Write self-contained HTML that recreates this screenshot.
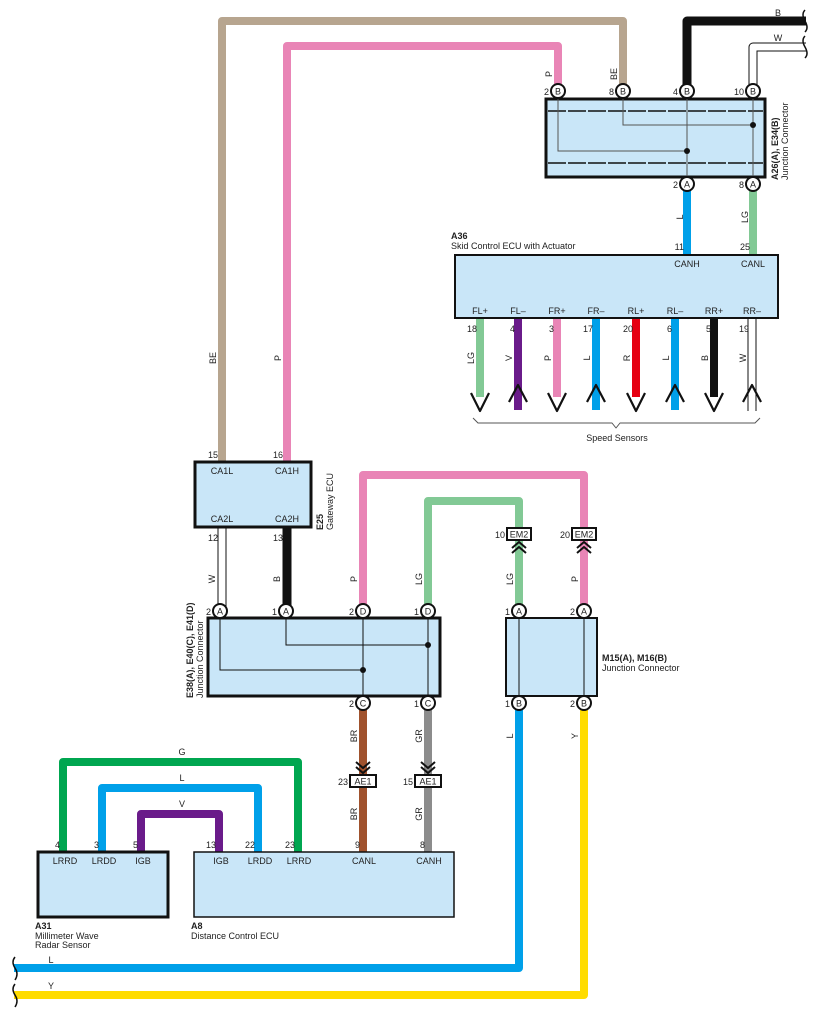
<!DOCTYPE html>
<html><head><meta charset="utf-8"><style>
html,body{margin:0;padding:0;background:#fff;}
svg{display:block;}
text{font-family:"Liberation Sans",Arial,sans-serif;fill:#222;}
</style></head><body>
<svg width="818" height="1017" viewBox="0 0 818 1017" xmlns="http://www.w3.org/2000/svg">
<g fill="none" stroke-linejoin="round">
<!-- top wires -->
<path d="M623 92 V21 H222 V462" stroke="#b7a58f" stroke-width="8"/>
<path d="M558 92 V46 H287 V462" stroke="#e985b6" stroke-width="8"/>
<path d="M687 92 V21 H806" stroke="#111" stroke-width="9"/>
<path d="M753 92 V47 H806" stroke="#111" stroke-width="9"/>
<path d="M753 92 V47 H806" stroke="#fff" stroke-width="7"/>
<!-- A26 to A36 -->
<path d="M687 184 V256" stroke="#00a0e9" stroke-width="8"/>
<path d="M753 184 V256" stroke="#82c995" stroke-width="8"/>
<!-- speed sensor wires -->
<path d="M480 318 V397" stroke="#82c995" stroke-width="8"/>
<path d="M518 318 V410" stroke="#6a1b8a" stroke-width="8"/>
<path d="M557 318 V397" stroke="#e985b6" stroke-width="8"/>
<path d="M596 318 V410" stroke="#00a0e9" stroke-width="8"/>
<path d="M636 318 V397" stroke="#e60012" stroke-width="8"/>
<path d="M675 318 V410" stroke="#00a0e9" stroke-width="8"/>
<path d="M714 318 V397" stroke="#111" stroke-width="8"/>
<path d="M752 318 V411" stroke="#111" stroke-width="9"/>
<path d="M752 318 V412" stroke="#fff" stroke-width="7"/>
<g stroke="#111" stroke-width="2.2">
<path d="M471 393 L480 411 L489 393"/>
<path d="M509 402 L518 385 L527 402"/>
<path d="M548 393 L557 411 L566 393"/>
<path d="M587 402 L596 385 L605 402"/>
<path d="M627 393 L636 411 L645 393"/>
<path d="M666 402 L675 385 L684 402"/>
<path d="M705 393 L714 411 L723 393"/>
<path d="M743 402 L752 385 L761 402"/>
</g>
<path d="M473 418 L478 423 H612 L616 428 L620 423 H755 L760 418" stroke="#555" stroke-width="1"/>
<!-- E25 bottom -->
<path d="M222 527 V611" stroke="#111" stroke-width="9"/>
<path d="M222 527 V611" stroke="#fff" stroke-width="7"/>
<path d="M287 527 V611" stroke="#111" stroke-width="9"/>
<!-- P and LG to EM2 -->
<path d="M363 611 V475 H584 V611" stroke="#e985b6" stroke-width="8"/>
<path d="M428 611 V501 H519 V611" stroke="#82c995" stroke-width="8"/>
<!-- BR GR -->
<path d="M363 703 V852" stroke="#a0522d" stroke-width="8"/>
<path d="M428 703 V852" stroke="#8c8c8c" stroke-width="8"/>
<!-- L, Y bottom -->
<path d="M519 703 V968 H14" stroke="#00a0e9" stroke-width="8"/>
<path d="M584 703 V995 H14" stroke="#ffdc00" stroke-width="8"/>
<!-- A31-A8 -->
<path d="M63 852 V762 H298 V852" stroke="#00a650" stroke-width="8"/>
<path d="M102 852 V788 H258 V852" stroke="#00a0e9" stroke-width="8"/>
<path d="M141 852 V814 H219 V852" stroke="#6a1b8a" stroke-width="8"/>
<!-- chevrons EM2/AE1 -->
<g stroke="#111" stroke-width="2">
<path d="M512 548 L519 542 L526 548 M512 553 L519 547 L526 553"/>
<path d="M577 548 L584 542 L591 548 M577 553 L584 547 L591 553"/>
<path d="M356 762 L363 768 L370 762 M356 767 L363 773 L370 767"/>
<path d="M421 762 L428 768 L435 762 M421 767 L428 773 L435 767"/>
</g>
<!-- braces -->
<g stroke="#111" stroke-width="1.5">
<path d="M805 10 q-4 4 0 11 q4 7 0 11"/>
<path d="M805 36 q-4 4 0 11 q4 7 0 11"/>
<path d="M15 957 q-4 5 0 11 q4 6 0 12"/>
<path d="M15 984 q-4 5 0 11 q4 6 0 12"/>
</g>
</g>

<!-- boxes -->
<g stroke="#111" stroke-width="3" fill="#c9e6f8">
<rect x="546" y="99" width="219" height="78"/>
<rect x="455" y="255" width="323" height="63" stroke-width="2"/>
<rect x="195" y="462" width="116" height="65"/>
<rect x="208" y="618" width="232" height="78"/>
<rect x="506" y="618" width="91" height="78" stroke-width="2"/>
<rect x="38" y="852" width="130" height="65"/>
<rect x="194" y="852" width="260" height="65" stroke-width="1.5"/>
</g>
<!-- internals -->
<g stroke="#111" stroke-width="1" fill="none">
<path d="M548 111 H763 M548 163 H763" stroke-width="1.5" stroke-dasharray="18 2"/>
<path d="M687 99 V177 M753 99 V177 M623 99 V125 H753 M558 99 V151 H687" stroke="#555"/>
<path d="M286 618 V645 H428 M220 618 V670 H363 M363 618 V696 M428 618 V696"/>
<path d="M519 618 V696 M584 618 V696"/>
</g>
<g fill="#111">
<circle cx="753" cy="125" r="3"/><circle cx="687" cy="151" r="3"/>
<circle cx="428" cy="645" r="3"/><circle cx="363" cy="670" r="3"/>
</g>
<!-- small connector boxes -->
<g stroke="#111" stroke-width="2" fill="#fff">
<rect x="507" y="528" width="24" height="12"/><rect x="572" y="528" width="24" height="12"/>
<rect x="350" y="775" width="26" height="12"/><rect x="415" y="775" width="26" height="12"/>
</g>
<g font-size="9" text-anchor="middle">
<text x="519" y="537.5">EM2</text><text x="584" y="537.5">EM2</text>
<text x="363" y="784.5">AE1</text><text x="428" y="784.5">AE1</text>
</g>
<g font-size="9" text-anchor="end">
<text x="505" y="538">10</text><text x="570" y="538">20</text>
<text x="348" y="785">23</text><text x="413" y="785">15</text>
</g>

<!-- pins -->
<g stroke="#111" stroke-width="2" fill="#fff">
<circle cx="558" cy="91" r="7"/><circle cx="623" cy="91" r="7"/><circle cx="687" cy="91" r="7"/><circle cx="753" cy="91" r="7"/>
<circle cx="687" cy="184" r="7"/><circle cx="753" cy="184" r="7"/>
<circle cx="220" cy="611" r="7"/><circle cx="286" cy="611" r="7"/><circle cx="363" cy="611" r="7"/><circle cx="428" cy="611" r="7"/>
<circle cx="363" cy="703" r="7"/><circle cx="428" cy="703" r="7"/>
<circle cx="519" cy="611" r="7"/><circle cx="584" cy="611" r="7"/>
<circle cx="519" cy="703" r="7"/><circle cx="584" cy="703" r="7"/>
</g>
<g font-size="9" text-anchor="middle">
<text x="558" y="94.5">B</text><text x="623" y="94.5">B</text><text x="687" y="94.5">B</text><text x="753" y="94.5">B</text>
<text x="687" y="187.5">A</text><text x="753" y="187.5">A</text>
<text x="220" y="614.5">A</text><text x="286" y="614.5">A</text><text x="363" y="614.5">D</text><text x="428" y="614.5">D</text>
<text x="363" y="706.5">C</text><text x="428" y="706.5">C</text>
<text x="519" y="614.5">A</text><text x="584" y="614.5">A</text>
<text x="519" y="706.5">B</text><text x="584" y="706.5">B</text>
</g>
<g font-size="9" text-anchor="end">
<text x="549" y="95">2</text><text x="614" y="95">8</text><text x="678" y="95">4</text><text x="744" y="95">10</text>
<text x="678" y="188">2</text><text x="744" y="188">8</text>
<text x="211" y="615">2</text><text x="277" y="615">1</text><text x="354" y="615">2</text><text x="419" y="615">1</text>
<text x="354" y="707">2</text><text x="419" y="707">1</text>
<text x="510" y="615">1</text><text x="575" y="615">2</text>
<text x="510" y="707">1</text><text x="575" y="707">2</text>
<!-- A36 pin numbers -->
<text x="684" y="250">11</text><text x="750" y="250">25</text>
<text x="477" y="332">18</text><text x="515" y="332">4</text><text x="554" y="332">3</text><text x="593" y="332">17</text>
<text x="633" y="332">20</text><text x="672" y="332">6</text><text x="711" y="332">5</text><text x="749" y="332">19</text>
<!-- E25 -->
<text x="218" y="458">15</text><text x="283" y="458">16</text>
<text x="218" y="541">12</text><text x="283" y="541">13</text>
<!-- A31/A8 -->
<text x="60" y="848">4</text><text x="99" y="848">3</text><text x="138" y="848">5</text>
<text x="216" y="848">13</text><text x="255" y="848">22</text><text x="295" y="848">23</text>
<text x="360" y="848">9</text><text x="425" y="848">8</text>
</g>
<!-- box pin labels -->
<g font-size="9" text-anchor="middle">
<text x="687" y="267">CANH</text><text x="753" y="267">CANL</text>
<text x="480" y="314">FL+</text><text x="518" y="314">FL–</text><text x="557" y="314">FR+</text><text x="596" y="314">FR–</text>
<text x="636" y="314">RL+</text><text x="675" y="314">RL–</text><text x="714" y="314">RR+</text><text x="752" y="314">RR–</text>
<text x="222" y="474">CA1L</text><text x="287" y="474">CA1H</text>
<text x="222" y="522">CA2L</text><text x="287" y="522">CA2H</text>
<text x="65" y="864">LRRD</text><text x="104" y="864">LRDD</text><text x="143" y="864">IGB</text>
<text x="221" y="864">IGB</text><text x="260" y="864">LRDD</text><text x="299" y="864">LRRD</text>
<text x="364" y="864">CANL</text><text x="429" y="864">CANH</text>
<!-- horizontal wire labels -->
<text x="778" y="16">B</text><text x="778" y="41">W</text>
<text x="182" y="755">G</text><text x="182" y="781">L</text><text x="182" y="807">V</text>
<text x="51" y="963">L</text><text x="51" y="989">Y</text>
<text x="617" y="441">Speed Sensors</text>
</g>
<!-- vertical wire labels -->
<g font-size="9" text-anchor="middle">
<text transform="translate(552,74) rotate(-90)">P</text>
<text transform="translate(617,74) rotate(-90)">BE</text>
<text transform="translate(683,217) rotate(-90)">L</text>
<text transform="translate(748,217) rotate(-90)">LG</text>
<text transform="translate(216,358) rotate(-90)">BE</text>
<text transform="translate(281,358) rotate(-90)">P</text>
<text transform="translate(474,358) rotate(-90)">LG</text>
<text transform="translate(512,358) rotate(-90)">V</text>
<text transform="translate(551,358) rotate(-90)">P</text>
<text transform="translate(590,358) rotate(-90)">L</text>
<text transform="translate(630,358) rotate(-90)">R</text>
<text transform="translate(669,358) rotate(-90)">L</text>
<text transform="translate(708,358) rotate(-90)">B</text>
<text transform="translate(746,358) rotate(-90)">W</text>
<text transform="translate(215,579) rotate(-90)">W</text>
<text transform="translate(280,579) rotate(-90)">B</text>
<text transform="translate(357,579) rotate(-90)">P</text>
<text transform="translate(422,579) rotate(-90)">LG</text>
<text transform="translate(513,579) rotate(-90)">LG</text>
<text transform="translate(578,579) rotate(-90)">P</text>
<text transform="translate(357,736) rotate(-90)">BR</text>
<text transform="translate(422,736) rotate(-90)">GR</text>
<text transform="translate(513,736) rotate(-90)">L</text>
<text transform="translate(578,736) rotate(-90)">Y</text>
<text transform="translate(357,814) rotate(-90)">BR</text>
<text transform="translate(422,814) rotate(-90)">GR</text>
</g>
<!-- component titles -->
<g font-size="9">
<text x="451" y="239" font-weight="bold">A36</text>
<text x="451" y="249">Skid Control ECU with Actuator</text>
<text x="602" y="661" font-weight="bold">M15(A), M16(B)</text>
<text x="602" y="671">Junction Connector</text>
<text x="35" y="929" font-weight="bold">A31</text>
<text x="35" y="939">Millimeter Wave</text>
<text x="35" y="948">Radar Sensor</text>
<text x="191" y="929" font-weight="bold">A8</text>
<text x="191" y="939">Distance Control ECU</text>
<g transform="translate(778,180) rotate(-90)"><text x="0" y="0" font-weight="bold">A26(A), E34(B)</text><text x="0" y="10">Junction Connector</text></g>
<g transform="translate(323,530) rotate(-90)"><text x="0" y="0" font-weight="bold">E25</text><text x="0" y="10">Gateway ECU</text></g>
<g transform="translate(193,698) rotate(-90)"><text x="0" y="0" font-weight="bold">E38(A), E40(C), E41(D)</text><text x="0" y="10">Junction Connector</text></g>
</g>
</svg>
</body></html>
